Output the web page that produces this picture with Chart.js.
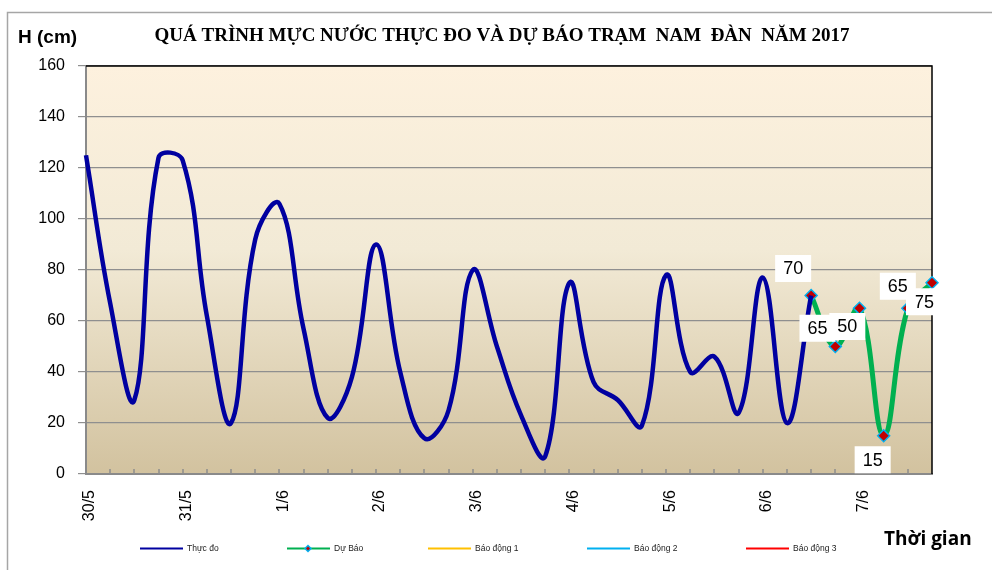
<!DOCTYPE html>
<html><head><meta charset="utf-8">
<script src="https://cdn.jsdelivr.net/npm/chart.js@4.4.0/dist/chart.umd.min.js"></script>
<style>html,body{margin:0;padding:0;background:#fff;overflow:hidden}canvas{display:block}</style>
</head><body>
<canvas id="c" width="992" height="570"></canvas>
<script>
// ---- data ----
const tickLabels = [
  '30/5','','','', '31/5','','','', '1/6','','','', '2/6','','','',
  '3/6','','','', '4/6','','','', '5/6','','','', '6/6','','','', '7/6','','',''
];
const thucDo = [125,67,29,124,123,62,20,92,106,57,22,38,90,40,14,25,80,50,23,7,
                75,36,29,19,78,40,46,24,77,20,70,null,null,null,null,null];
const duBao = [null,null,null,null,null,null,null,null,null,null,null,null,null,null,null,
               null,null,null,null,null,null,null,null,null,null,null,null,null,null,null,
               70,50,65,15,65,75];
const baoDong1 = [];
const baoDong2 = [];
const baoDong3 = [];
const seriesNames = ['Thực đo','Dự Báo','Báo động 1','Báo động 2','Báo động 3'];
const yMin = 0, yMax = 160, yStep = 20;
const chartTitle = 'QUÁ TRÌNH MỰC NƯỚC THỰC ĐO VÀ DỰ BÁO TRẠM  NAM  ĐÀN  NĂM 2017';
const yTitle = 'H (cm)';
const xTitle = 'Thời gian';

// ---- presentation ----
const labelOffsets = {30:[-18,-27],31:[12,-20],32:[-42,20],33:[-11,24],34:[-10,-22],35:[-8,19]};
const legendX = [140,287,428,587,746];

const deco = {
  id:'deco',
  beforeDraw(chart){
    const {ctx, chartArea:a} = chart;
    ctx.save();
    ctx.fillStyle='#fff'; ctx.fillRect(0,0,chart.width,chart.height);
    ctx.strokeStyle='#a6a6a6'; ctx.lineWidth=1.5;
    ctx.beginPath(); ctx.moveTo(7.5,570); ctx.lineTo(7.5,12.5); ctx.lineTo(992,12.5); ctx.stroke();
    const g = ctx.createLinearGradient(0,a.top,0,a.bottom);
    g.addColorStop(0,'#fdf1de'); g.addColorStop(0.45,'#f2ead6'); g.addColorStop(1,'#d2c29f');
    ctx.fillStyle=g; ctx.fillRect(a.left,a.top,a.right-a.left,a.bottom-a.top);
    ctx.restore();
  },
  beforeDatasetsDraw(chart){
    const {ctx, chartArea:a, scales:{x}} = chart;
    ctx.save();
    ctx.strokeStyle='#8c8c8c'; ctx.lineWidth=1.5;
    for(let i=1;i<tickLabels.length-1;i++){
      const px=Math.round(x.getPixelForValue(i));
      ctx.beginPath(); ctx.moveTo(px,a.bottom-5); ctx.lineTo(px,a.bottom); ctx.stroke();
    }
    ctx.strokeStyle='#000'; ctx.lineWidth=1.5;
    ctx.beginPath(); ctx.moveTo(a.left,a.top); ctx.lineTo(a.right,a.top); ctx.lineTo(a.right,a.bottom); ctx.stroke();
    ctx.restore();
  },
  afterDatasetsDraw(chart){
    const {ctx} = chart;
    const meta = chart.getDatasetMeta(1);
    ctx.save();
    ctx.font='18px "Liberation Sans", Arial, sans-serif';
    ctx.textAlign='center'; ctx.textBaseline='middle';
    for(let i=duBao.length-1;i>=0;i--){
      if(duBao[i]==null) continue;
      const p = meta.data[i];
      const off = labelOffsets[i]||[0,-20];
      const cx=p.x+off[0], cy=p.y+off[1];
      const t=String(duBao[i]);
      const w=ctx.measureText(t).width+16, h=27;
      ctx.fillStyle='#fff'; ctx.fillRect(cx-w/2,cy-h/2,w,h);
      ctx.fillStyle='#000'; ctx.fillText(t,cx,cy+1);
    }
    ctx.restore();
  },
  afterDraw(chart){
    const {ctx} = chart;
    ctx.save();
    ctx.fillStyle='#000'; ctx.textBaseline='middle';
    ctx.font='bold 19px "Liberation Sans", Arial, sans-serif';
    ctx.textAlign='left'; ctx.fillText(yTitle,18,38);
    ctx.font='bold 19px "Liberation Serif", "Times New Roman", serif';
    ctx.textAlign='center'; ctx.fillText(chartTitle,502,36);
    ctx.font='bold 19px "Open Sans", "Noto Sans", sans-serif';
    ctx.textAlign='left'; ctx.fillText(xTitle,884,540);
    // legend
    ctx.font='8.5px "Liberation Sans", Arial, sans-serif';
    chart.data.datasets.forEach((ds,i)=>{
      const x0=legendX[i], y=548.5;
      ctx.strokeStyle=ds.borderColor; ctx.lineWidth=1.8;
      ctx.beginPath(); ctx.moveTo(x0,y); ctx.lineTo(x0+43,y); ctx.stroke();
      if(ds.pointRadius>0){
        const mx=x0+21, r=3;
        ctx.fillStyle=ds.pointBorderColor;
        ctx.beginPath(); ctx.moveTo(mx,y-r-1); ctx.lineTo(mx+r+1,y); ctx.lineTo(mx,y+r+1); ctx.lineTo(mx-r-1,y); ctx.closePath(); ctx.fill();
        ctx.fillStyle=ds.pointBackgroundColor;
        ctx.beginPath(); ctx.moveTo(mx,y-r+1); ctx.lineTo(mx+r-1,y); ctx.lineTo(mx,y+r-1); ctx.lineTo(mx-r+1,y); ctx.closePath(); ctx.fill();
      }
      ctx.fillStyle='#222'; ctx.textAlign='left';
      ctx.fillText(ds.label,x0+47,y);
    });
    ctx.restore();
  }
};

new Chart(document.getElementById('c'),{
  type:'line',
  data:{
    labels:tickLabels,
    datasets:[
      {label:seriesNames[0],data:thucDo,borderColor:'#0000a0',borderWidth:4.5,pointRadius:0,tension:0.4,spanGaps:false,clip:false},
      {label:seriesNames[1],data:duBao,borderColor:'#00b050',borderWidth:5,pointRadius:6,pointStyle:'rectRot',
        pointBackgroundColor:'#c00000',pointBorderColor:'#00b0f0',pointBorderWidth:1.5,tension:0.4,clip:false},
      {label:seriesNames[2],data:baoDong1,borderColor:'#ffc000',borderWidth:2,pointRadius:0},
      {label:seriesNames[3],data:baoDong2,borderColor:'#00b0f0',borderWidth:2,pointRadius:0},
      {label:seriesNames[4],data:baoDong3,borderColor:'#ff0000',borderWidth:2,pointRadius:0}
    ]
  },
  options:{
    responsive:false, animation:false, devicePixelRatio:1,
    layout:{padding:{left:0,top:66,right:60,bottom:0}},
    plugins:{legend:{display:false},tooltip:{enabled:false},title:{display:false}},
    scales:{
      x:{
        grid:{display:false},
        border:{display:true,color:'#8a8a8a',width:2},
        ticks:{autoSkip:false,minRotation:90,maxRotation:90,padding:8,labelOffset:4,color:'#000',
          font:{family:'"Liberation Sans", Arial, sans-serif',size:16}},
        afterFit(s){s.height=96;}
      },
      y:{
        min:yMin,max:yMax,
        ticks:{stepSize:yStep,color:'#000',padding:13,font:{family:'"Liberation Sans", Arial, sans-serif',size:16}},
        grid:{color:'#8f8f8f',lineWidth:1.2,tickLength:8},
        border:{display:true,color:'#8a8a8a',width:2},
        afterFit(s){s.width=86;}
      }
    }
  },
  plugins:[deco]
});
</script>
</body></html>
